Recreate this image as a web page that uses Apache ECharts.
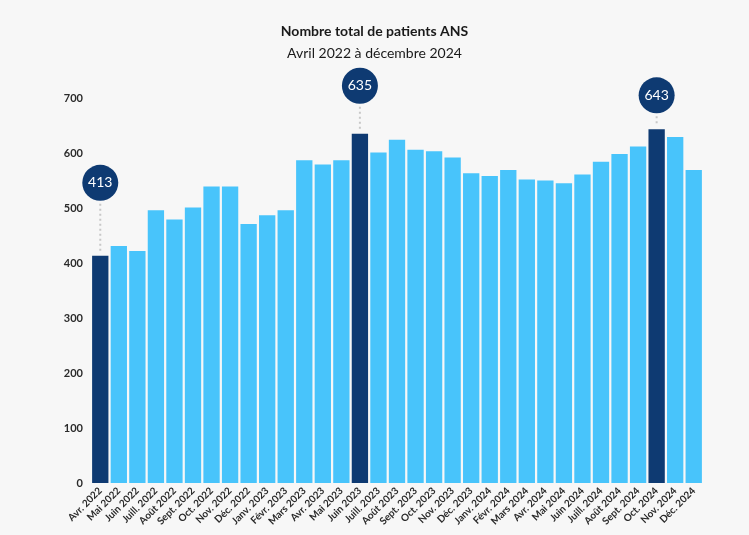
<!DOCTYPE html>
<html>
<head>
<meta charset="utf-8">
<script src="https://cdn.jsdelivr.net/npm/echarts@6/dist/echarts.min.js"></script>
<style>
html,body{margin:0;padding:0;background:#f7f7f7;}
#chart{width:749px;height:535px;}
</style>
</head>
<body>
<div id="chart"></div>
<script>
const categories = ["Avr. 2022","Mai 2022","Juin 2022","Juill. 2022","Août 2022","Sept. 2022","Oct. 2022","Nov. 2022","Déc. 2022","Janv. 2023","Févr. 2023","Mars 2023","Avr. 2023","Mai 2023","Juin 2023","Juill. 2023","Août 2023","Sept. 2023","Oct. 2023","Nov. 2023","Déc. 2023","Janv. 2024","Févr. 2024","Mars 2024","Avr. 2024","Mai 2024","Juin 2024","Juill. 2024","Août 2024","Sept. 2024","Oct. 2024","Nov. 2024","Déc. 2024"];
const patients = [413,431,422,496,479,501,539,539,471,487,496,587,579,587,635,601,624,606,603,592,563,558,569,552,550,545,561,584,598,612,643,629,569];
const highlighted = [0,14,30];
const yTicks = [0,100,200,300,400,500,600,700];

// styling only: how far each bubble floats above its bar (px)
const bubbleLift = [73,48,34];

const LIGHT = '#48c4fb', DARK = '#0e3a72';
const chart = echarts.init(document.getElementById('chart'));
chart.setOption({
  backgroundColor: '#f7f7f7',
  animation: false,
  title: {
    text: 'Nombre total de patients ANS',
    subtext: 'Avril 2022 à décembre 2024',
    left: 'center', top: 19, itemGap: 8,
    textStyle: {fontFamily: 'Lato', fontWeight: 'bold', fontSize: 14, color: '#1a1a1a'},
    subtextStyle: {fontFamily: 'Lato', fontSize: 14, color: '#1a1a1a'}
  },
  grid: {left: 91, right: 46, top: 98, bottom: 52, containLabel: false},
  xAxis: {
    type: 'category', data: categories,
    axisLine: {show: false}, axisTick: {show: false},
    axisLabel: {rotate: 45, interval: 0, margin: 6, fontFamily: 'Lato', fontWeight: 'bold', fontSize: 10, color: '#2a2a2a'}
  },
  yAxis: {
    type: 'value', min: yTicks[0], max: yTicks[yTicks.length-1], interval: 100,
    splitLine: {show: false}, axisLine: {show: false}, axisTick: {show: false},
    axisLabel: {margin: 8, fontFamily: 'Lato', fontWeight: 'bold', fontSize: 11, color: '#2a2a2a'}
  },
  series: [{
    type: 'bar',
    barCategoryGap: '12%',
    data: patients.map((v, i) => ({value: v, itemStyle: {color: highlighted.includes(i) ? DARK : LIGHT}}))
  }, {
    type: 'custom',
    clip: false,
    z: 10,
    data: highlighted.map(i => [i, patients[i]]),
    renderItem: function (params, api) {
      const p = api.coord([api.value(0), api.value(1)]);
      const lift = bubbleLift[params.dataIndex];
      const r = 18;
      const cy = p[1] - lift;
      return {
        type: 'group',
        children: [
          {type: 'line', shape: {x1: p[0], y1: cy + r + 3, x2: p[0], y2: p[1] - 3},
           style: {stroke: '#c8c8c8', lineWidth: 2, lineDash: [2, 3]}},
          {type: 'circle', shape: {cx: p[0], cy: cy, r: r}, style: {fill: DARK}},
          {type: 'text', x: p[0], y: cy, style: {text: String(api.value(1)), fill: '#ffffff',
            font: '14px Lato', textAlign: 'center', textVerticalAlign: 'middle'}}
        ]
      };
    }
  }]
});
</script>
</body>
</html>
